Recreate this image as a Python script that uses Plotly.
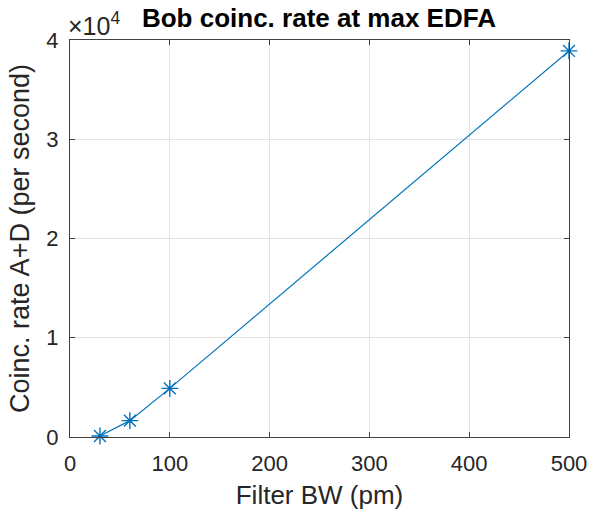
import plotly.graph_objects as go

filter_bw = [30, 60, 100, 500]
coinc_rate = [100, 1650, 4900, 38900]
y_ticks = [0, 10000, 20000, 30000, 40000]
y_tick_labels = ["0", "1", "2", "3", "4"]
x_ticks = [0, 100, 200, 300, 400, 500]

blue = "#0072BD"
font = "Liberation Sans, Arial, sans-serif"
grey = "#262626"

fig = go.Figure()
fig.add_trace(go.Scatter(
    x=filter_bw, y=coinc_rate, mode="lines+markers",
    line=dict(color=blue, width=1.2),
    marker=dict(symbol="asterisk-open", size=14, line=dict(color=blue, width=1.4)),
    showlegend=False,
    cliponaxis=False,
))

axis_common = dict(
    showline=True, linecolor="#404040", linewidth=1, mirror="ticks",
    ticks="inside", ticklen=5, tickcolor="#404040",
    showgrid=True, gridcolor="#e3e3e3", gridwidth=1, zeroline=False,
    tickfont=dict(family=font, size=22, color=grey),
    automargin=False,
)

fig.update_layout(
    width=590, height=515,
    margin=dict(l=70, r=21, t=40, b=78, autoexpand=False),
    paper_bgcolor="white", plot_bgcolor="white",
    title=dict(text="<b>Bob coinc. rate at max EDFA</b>", x=0.5406, xanchor="center",
               y=0.965, yanchor="middle",
               font=dict(family=font, size=26, color="black")),
    xaxis=dict(range=[0, 500], tickvals=x_ticks, ticklabelstandoff=7,
               title=dict(text="Filter BW (pm)", font=dict(family=font, size=26, color=grey), standoff=10),
               **axis_common),
    yaxis=dict(range=[0, 40000], tickvals=y_ticks, ticktext=y_tick_labels, ticklabelstandoff=6,
               title=dict(text="Coinc. rate A+D (per second)", font=dict(family=font, size=27, color=grey), standoff=8),
               **axis_common),
)
fig.add_annotation(text="×10<sup>4</sup>", xref="paper", yref="paper", x=0, y=1.0,
                   xanchor="left", yanchor="bottom", showarrow=False, yshift=-2, xshift=-4,
                   font=dict(family=font, size=25, color=grey))

fig.write_html("out.html")
